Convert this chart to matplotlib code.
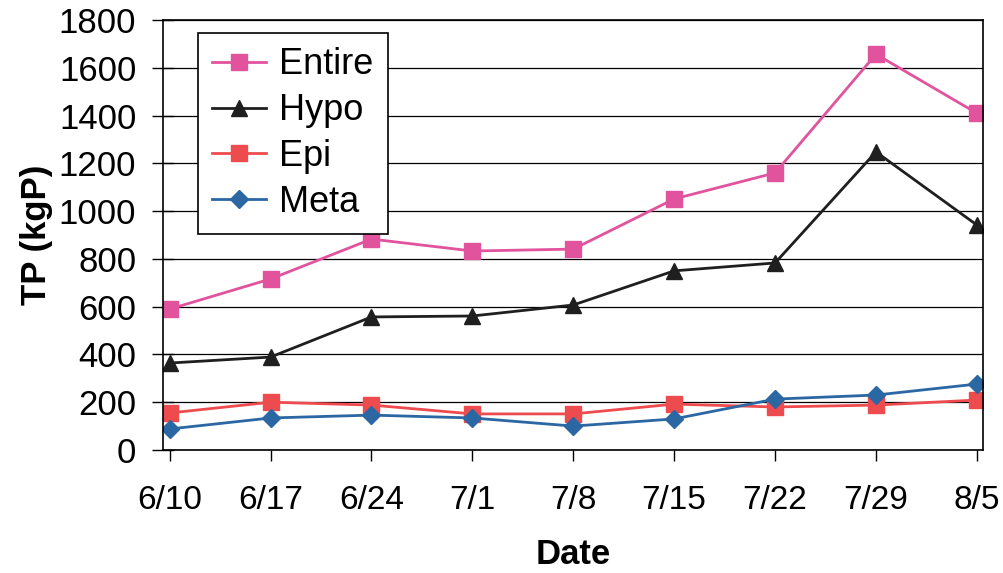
import matplotlib
matplotlib.use('Agg')
import matplotlib.pyplot as plt

plt.rcParams['font.family'] = ['Liberation Sans', 'DejaVu Sans']

dates = ['6/10', '6/17', '6/24', '7/1', '7/8', '7/15', '7/22', '7/29', '8/5']
entire = [590, 716, 883, 833, 841, 1051, 1160, 1657, 1410]
hypo = [364, 389, 557, 561, 607, 750, 783, 1248, 942]
epi = [155, 200, 188, 151, 151, 192, 180, 188, 209]
meta = [88, 134, 146, 134, 100, 130, 213, 230, 276]

fig = plt.figure(figsize=(10.04, 5.73), dpi=100)
ax = fig.add_axes([0.162, 0.2147, 0.817, 0.7503])

x = range(len(dates))
ax.plot(x, entire, color='#E2539E', lw=2.0, marker='s', ms=11, label='Entire')
ax.plot(x, hypo, color='#1f1f1f', lw=2.0, marker='^', ms=11, label='Hypo')
ax.plot(x, epi, color='#EE4B4F', lw=2.0, marker='s', ms=11, label='Epi')
ax.plot(x, meta, color='#2B67A3', lw=2.0, marker='D', ms=9, label='Meta')

ax.set_ylim(0, 1800)
ax.set_yticks(range(0, 1801, 200))
ax.set_xlim(-0.07, 8.06)
ax.set_xticks(list(x))
ax.set_xticklabels(dates)
ax.yaxis.grid(True, color='black', lw=0.9)
ax.set_axisbelow(True)

ax.tick_params(axis='y', direction='inout', length=16, width=1, labelsize=25, pad=11)
ax.tick_params(axis='x', direction='out', length=8, width=1, labelsize=24, pad=17)
for s in ax.spines.values():
    s.set_linewidth(1.2)

ax.set_ylabel('TP (kgP)', fontsize=25, fontweight='bold', labelpad=4)
ax.set_xlabel('Date', fontsize=25, fontweight='bold', labelpad=16)

leg = ax.legend(loc='upper left', bbox_to_anchor=(0.0427, 0.970), borderaxespad=0,
                fontsize=26, frameon=True, fancybox=False, edgecolor='black',
                framealpha=1, handlelength=1.5, handletextpad=0.35,
                labelspacing=0.3, borderpad=0.4)
leg.get_frame().set_linewidth(1.2)

fig.savefig('out.png', dpi=100)
